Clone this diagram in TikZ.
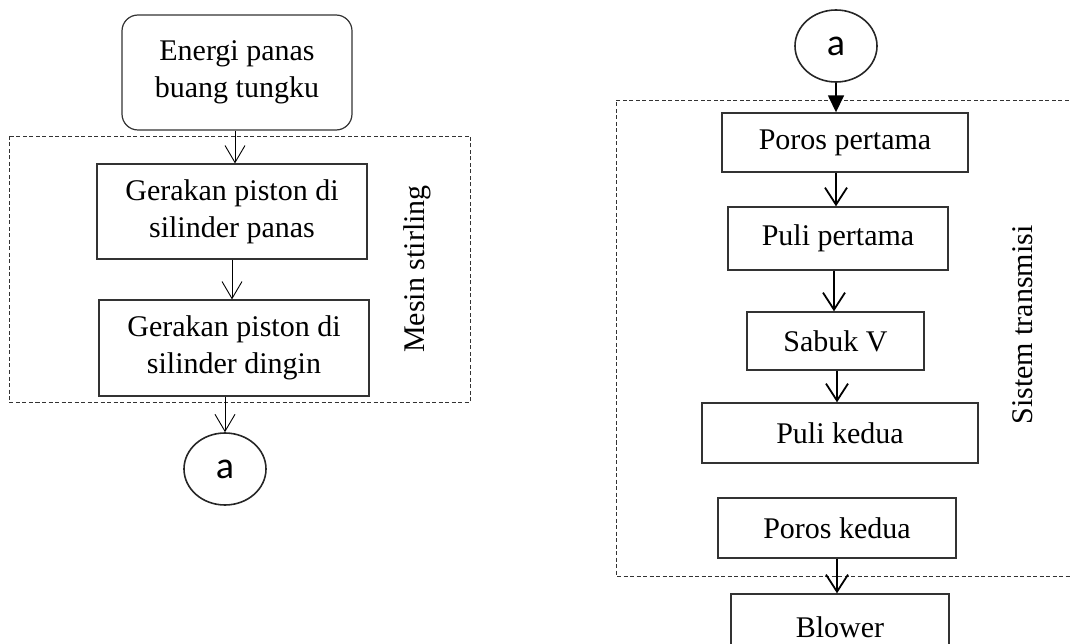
\documentclass[tikz,border=0pt]{standalone}
\usepackage{fontspec}
\setmainfont{Liberation Serif}
\newfontfamily\calib{Carlito}
\usetikzlibrary{arrows.meta,shapes.geometric}
\begin{document}
\begin{tikzpicture}[x=1pt,y=-1pt,
  txt/.style={font=\fontsize{30}{37}\selectfont},
  boxl/.style={draw=black!80,line width=1.2pt,align=center,txt,inner sep=0pt},
  boxr/.style={draw=black!80,line width=1.4pt,align=center,txt,inner sep=0pt},
  conn/.style={draw=black!85,ellipse,line width=1.6pt,minimum width=82pt,minimum height=72pt,inner sep=0pt,font=\calib\fontsize{38}{40}\selectfont},
  arrl/.style={line width=0.9pt,-{Straight Barb[length=17pt,width=20pt,line width=0.9pt]}},
  arrr/.style={line width=1.8pt,-{Straight Barb[length=17pt,width=22pt,line width=1.8pt]}},
  arrf/.style={line width=1.6pt,-{Triangle[length=17pt,width=16pt]}},
  grp/.style={dash pattern=on 4pt off 2.5pt,line width=0.9pt,draw=black!80}
]
\useasboundingbox (0,0) rectangle (1071,644);
\clip (0,0) rectangle (1071,644);
% left
\draw[grp] (9,136) rectangle (470,402);
\node[boxl,rounded corners=16pt,minimum width=230pt,minimum height=115pt] (n0) at (237,72.5) {Energi panas\\buang tungku};
\node[boxl,minimum width=270pt,minimum height=95pt] (n1) at (232,211.5) {Gerakan piston di\\silinder panas};
\node[boxl,minimum width=270pt,minimum height=96pt] (n2) at (234,348) {Gerakan piston di\\silinder dingin};
\node[txt,rotate=90] (lbl1) at (417,269) {Mesin stirling};
\node[conn] (ca1) at (225,469) {a};
\draw[arrl] (235,0 |- n0.south) -- (235,0 |- n1.north);
\draw[arrl] (232,0 |- n1.south) -- (232,0 |- n2.north);
\draw[arrl] (225,0 |- n2.south) -- (ca1.north);
% right
\draw[grp] (1075,100) -- (616,100) -- (616,576) -- (1075,576);
\node[conn] (ca2) at (836,46) {a};
\node[boxr,minimum width=246pt,minimum height=59pt] (r1) at (845,142.5) {Poros pertama};
\node[boxr,minimum width=220pt,minimum height=63pt] (r2) at (838,238.5) {Puli pertama};
\node[boxr,minimum width=177pt,minimum height=58pt] (r3) at (835.5,341) {Sabuk V};
\node[boxr,minimum width=276pt,minimum height=60pt] (r4) at (840,433) {Puli kedua};
\node[boxr,minimum width=238pt,minimum height=60pt] (r5) at (837,528) {Poros kedua};
\node[boxr,minimum width=218pt,minimum height=66pt] (r6) at (840,627) {Blower};
\node[txt,rotate=90] (lbl2) at (1023,325) {Sistem transmisi};
\draw[arrf] (ca2.south) -- (836,0 |- r1.north);
\draw[arrr] (836,0 |- r1.south) -- (836,0 |- r2.north);
\draw[arrr] (834,0 |- r2.south) -- (834,0 |- r3.north);
\draw[arrr] (837,0 |- r3.south) -- (837,0 |- r4.north);
\draw[arrr] (837,0 |- r5.south) -- (837,0 |- r6.north);
\end{tikzpicture}
\end{document}
